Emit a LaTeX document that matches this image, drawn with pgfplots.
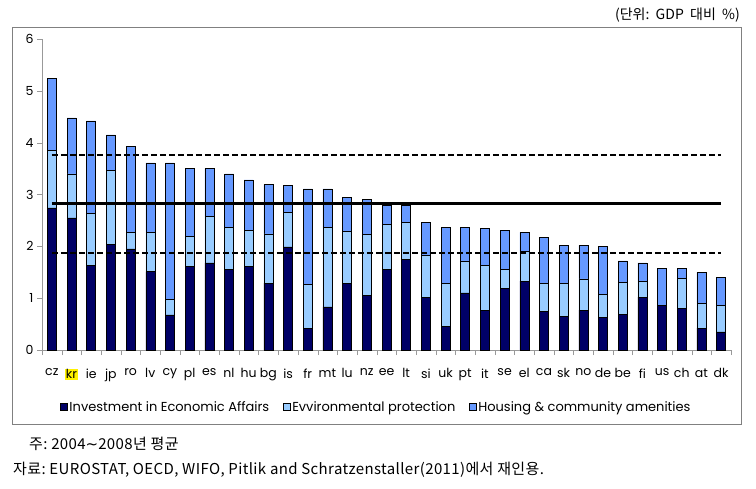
\documentclass[border=0pt]{standalone}
\usepackage{fontspec}
\setmainfont{Poppins}
\newfontfamily\kr{Noto Sans CJK KR}
\newfontfamily\krw[LetterSpace=2.5]{Noto Sans CJK KR}
\newfontfamily\dv{DejaVu Sans}
\usepackage{pgfplots}
\usepackage{pgfplotstable}
\pgfplotsset{compat=1.18}

\definecolor{econ}{HTML}{000066}
\definecolor{envp}{HTML}{99CCFF}
\definecolor{hous}{HTML}{6699FF}
\definecolor{axgray}{HTML}{999999}
\definecolor{boxgray}{HTML}{808080}

% share of GDP, 2004-2008 average
\pgfplotstableread{
idx cat econ env hous
0  cz 2.74 1.11 1.39
1  kr 2.55 0.85 1.08
2  ie 1.64 1.00 1.78
3  jp 2.04 1.42 0.69
4  ro 1.95 0.32 1.66
5  lv 1.51 0.76 1.34
6  cy 0.68 0.30 2.63
7  pl 1.62 0.57 1.31
8  es 1.68 0.90 0.92
9  nl 1.56 0.80 1.04
10 hu 1.62 0.69 0.97
11 bg 1.29 0.95 0.95
12 is 1.99 0.67 0.51
13 fr 0.42 0.84 1.85
14 mt 0.83 1.53 0.75
15 lu 1.29 1.00 0.66
16 nz 1.06 1.17 0.68
17 ee 1.56 0.86 0.38
18 lt 1.75 0.71 0.34
19 si 1.02 0.80 0.64
20 uk 0.45 0.83 1.09
21 pt 1.10 0.62 0.65
22 it 0.77 0.86 0.72
23 se 1.19 0.37 0.75
24 el 1.33 0.58 0.36
25 ca 0.75 0.53 0.89
26 sk 0.65 0.63 0.74
27 no 0.77 0.60 0.65
28 de 0.63 0.45 0.92
29 be 0.69 0.62 0.41
30 fi 1.02 0.31 0.35
31 us 0.86 0.00 0.71
32 ch 0.81 0.57 0.19
33 at 0.42 0.48 0.60
34 dk 0.35 0.51 0.54
}\data

\setlength{\fboxsep}{1pt}

\begin{document}
\begin{tikzpicture}
\path[use as bounding box] (0pt,0pt) rectangle (756pt,-488pt);
\draw[boxgray, line width=0.9pt] (12pt,-27pt) rectangle (741pt,-424pt);

\begin{axis}[
    at={(42pt,-350pt)}, anchor=south west,
    scale only axis, width=689pt, height=311pt,
    ybar stacked, bar width=9pt,
    xmin=-0.5, xmax=34.5, ymin=0, ymax=6,
    axis lines=left,
    axis line style={axgray, -},
    tick align=outside,
    xtick={0,...,34},
    xticklabels={cz,\colorbox{yellow}{kr},ie,jp,ro,lv,cy,pl,es,nl,hu,bg,is,fr,mt,lu,nz,ee,lt,si,uk,pt,it,se,el,ca,sk,no,de,be,fi,us,ch,at,dk},
    xticklabel style={yshift=-10pt},
    minor xtick={-0.5,0.5,...,34.5},
    major x tick style={draw=none},
    minor x tick style={axgray},
    ytick={0,...,6},
    y tick style={axgray},
    major tick length=5pt, minor tick length=5pt,
    ticklabel style={font=\fontsize{12.5}{14}\selectfont},
    /pgf/number format/assume math mode=true,
    legend columns=3,
    legend style={draw=none, at={(0.4855,-0.183)}, anchor=center,
        font=\fontsize{13}{15}\selectfont,
        /tikz/every even column/.append style={column sep=12pt}},
    legend image code/.code={\draw[#1] (0pt,-3.2pt) rectangle (6.5pt,3.2pt);},
    every axis plot/.append style={draw=black, line width=0.5pt},
]
\addplot[fill=econ] table[x=idx, y=econ] {\data};
\addplot[fill=envp] table[x=idx, y=env] {\data};
\addplot[fill=hous] table[x=idx, y=hous] {\data};
\legend{Investment in Economic Affairs, Evvironmental protection, Housing \& community amenities}
\end{axis}

\begin{axis}[
    at={(42pt,-350pt)}, anchor=south west,
    scale only axis, width=689pt, height=311pt,
    xmin=-0.5, xmax=34.5, ymin=0, ymax=6,
    hide axis,
]
\addplot[black, line width=2pt, dash pattern=on 6pt off 3pt] coordinates {(0,3.76) (34,3.76)};
\addplot[black, line width=3.5pt] coordinates {(0,2.83) (34,2.83)};
\addplot[black, line width=2pt, dash pattern=on 6pt off 3pt] coordinates {(0,1.88) (34,1.88)};
\end{axis}

\node[anchor=east, inner sep=0pt, font=\kr\fontsize{14}{16}\selectfont] at (740pt,-15pt) {(단위:\ \ GDP\ \ 대비\ \ \%)};
\node[anchor=west, inner sep=0pt, font=\krw\fontsize{15}{17}\selectfont] at (29pt,-444pt) {주:\ 2004{\dv∼}2008년 평균};
\node[anchor=west, inner sep=0pt, font=\krw\fontsize{15}{17}\selectfont] at (13pt,-470pt) {자료:\ EUROSTAT, OECD, WIFO, Pitlik and Schratzenstaller(2011)에서 재인용.};
\end{tikzpicture}
\end{document}
